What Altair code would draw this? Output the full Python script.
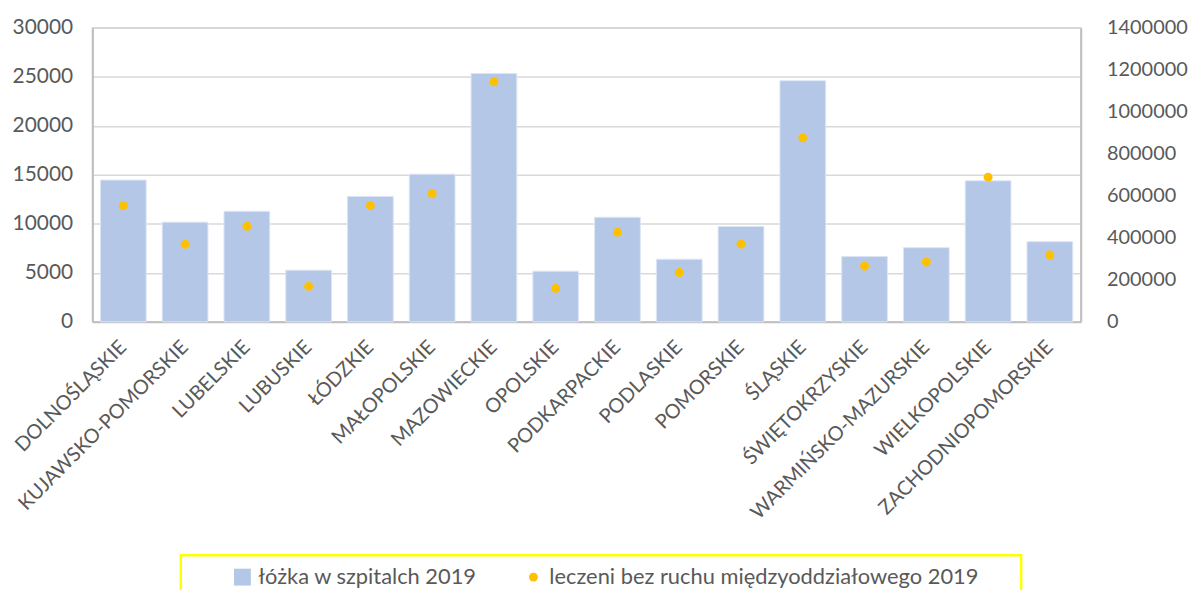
import altair as alt
import pandas as pd

regions = ["DOLNOŚLĄSKIE", "KUJAWSKO-POMORSKIE", "LUBELSKIE", "LUBUSKIE", "ŁÓDZKIE",
           "MAŁOPOLSKIE", "MAZOWIECKIE", "OPOLSKIE", "PODKARPACKIE", "PODLASKIE",
           "POMORSKIE", "ŚLĄSKIE", "ŚWIĘTOKRZYSKIE", "WARMIŃSKO-MAZURSKIE",
           "WIELKOPOLSKIE", "ZACHODNIOPOMORSKIE"]
beds = [14470, 10170, 11280, 5270, 12800, 15070, 25340, 5170, 10670, 6390,
        9730, 24600, 6660, 7570, 14390, 8180]
treated = [553000, 369000, 455000, 169000, 553000, 610000, 1143000, 159000, 427000,
           235000, 370000, 876000, 265000, 285000, 689000, 318000]

s_beds = "łóżka w szpitalch 2019"
s_treated = "leczeni bez ruchu międzyoddziałowego 2019"
series = [s_beds, s_treated]
y_left_ticks = [0, 5000, 10000, 15000, 20000, 25000, 30000]
y_right_ticks = [0, 200000, 400000, 600000, 800000, 1000000, 1200000, 1400000]

df = pd.DataFrame({"region": regions, "beds": beds, "treated": treated})

FONT = "Lato"
TXT = "#595959"

x_enc = alt.X("region:N", sort=regions,
              scale=alt.Scale(paddingInner=0.26, paddingOuter=0.13),
              axis=alt.Axis(title=None, labelAngle=-45, labelAlign="right",
                            labelBaseline="middle", labelPadding=22, ticks=False,
                            labelLimit=400, labelOverlap=False, labelFontSize=20,
                            domainColor="#BFBFBF", domainWidth=2))

color_scale = alt.Scale(domain=series, range=["#B4C7E7", "#FFC000"])
shape_scale = alt.Scale(domain=series, range=["square", "circle"])
size_scale = alt.Scale(domain=series, range=[289, 81])

legend = alt.Legend(
    title=" ", titleOrient="right", titlePadding=32,
    orient="none", legendX=89, legendY=531, direction="horizontal",
    strokeColor="#FFFF00", padding=11,
    labelFont=FONT, labelFontSize=22, labelColor=TXT, labelLimit=600,
    symbolOffset=40, labelOffset=5, columnPadding=5,
    symbolStrokeWidth=0, symbolOpacity=1,
)

bars = alt.Chart(df).transform_calculate(
    series=f"'{s_beds}'"
).mark_bar(stroke="#DCE5F4", strokeWidth=1).encode(
    x=x_enc,
    y=alt.Y("beds:Q", scale=alt.Scale(domain=[0, 30000], nice=False),
            axis=alt.Axis(title=None, values=y_left_ticks, orient="left", format="d",
                          labelPadding=20, ticks=False, grid=True, labelFontSize=21,
                          domainColor="#BFBFBF", domainWidth=2)),
    color=alt.Color("series:N", scale=color_scale, legend=legend),
)

points = alt.Chart(df).transform_calculate(
    series=f"'{s_treated}'"
).mark_point(filled=True, opacity=1).encode(
    x=x_enc,
    y=alt.Y("treated:Q", scale=alt.Scale(domain=[0, 1400000], nice=False),
            axis=alt.Axis(title=None, values=y_right_ticks, orient="right", format="d",
                          labelPadding=26, ticks=False, grid=False, labelFontSize=20,
                          domainColor="#BFBFBF", domainWidth=2)),
    color=alt.Color("series:N", scale=color_scale, legend=legend),
    shape=alt.Shape("series:N", scale=shape_scale, legend=legend),
    size=alt.Size("series:N", scale=size_scale, legend=legend),
)

chart = alt.layer(bars, points).resolve_scale(y="independent").properties(
    width=995, height=296,
    autosize=alt.AutoSizeParams(type="none"),
    padding={"left": 85, "top": 18, "right": 111, "bottom": 268},
).configure_view(stroke="#D9D9D9", strokeWidth=1.5).configure_axis(
    labelFont=FONT, labelColor=TXT,
    gridColor="#D9D9D9", gridWidth=1.5,
).configure_legend(titleFont=FONT, titleFontSize=20, strokeWidth=2.5)

chart.save("out.html", embed_options={"renderer": "svg", "actions": False})
